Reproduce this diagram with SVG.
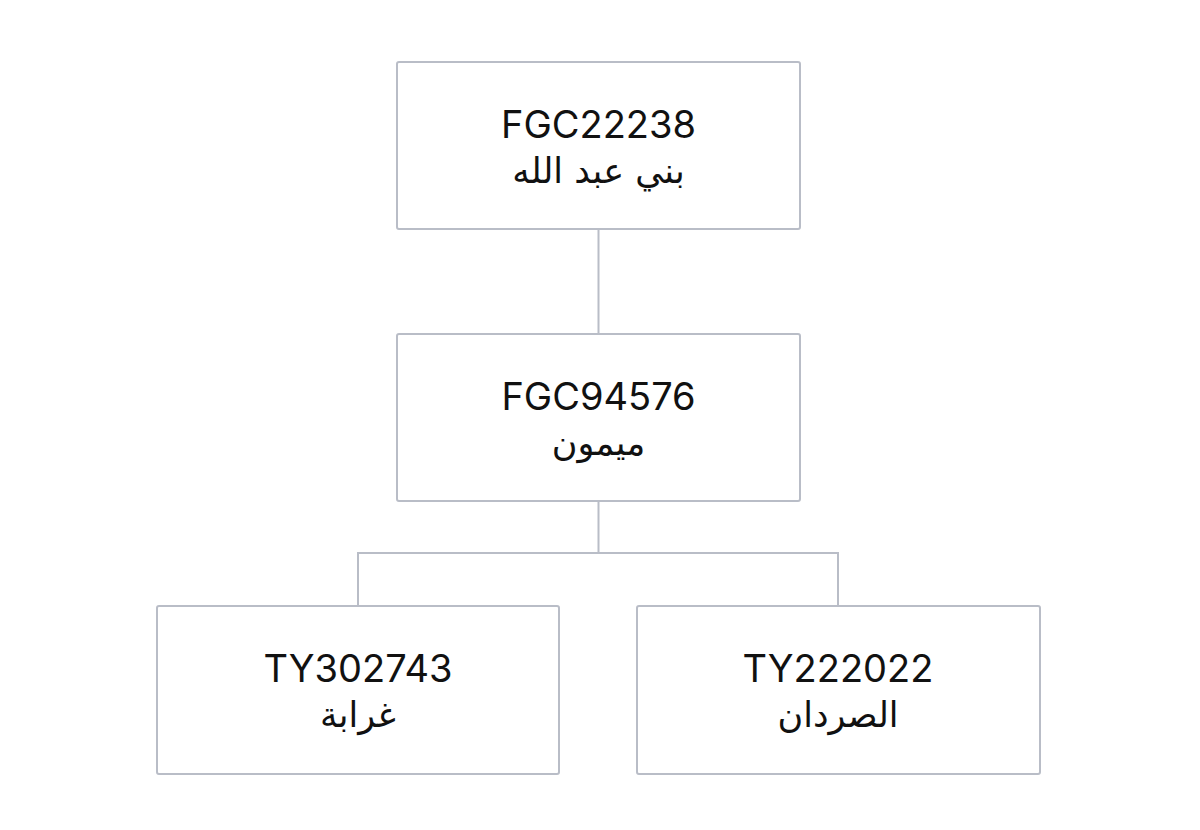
<svg xmlns="http://www.w3.org/2000/svg" width="1200" height="830" viewBox="0 0 1200 830">
<style>
.box{fill:#ffffff;stroke:#b9bdc7;stroke-width:2}
.conn{fill:none;stroke:#b9bdc7;stroke-width:2}
.t{font-family:Inter,"DejaVu Sans",sans-serif;font-size:38px;fill:#111111;text-anchor:middle}
.a{font-family:"DejaVu Sans","Noto Sans",sans-serif;font-size:35px;fill:#111111;text-anchor:middle}
</style>
<rect width="1200" height="830" fill="#ffffff"/>
<g id="connectors">
<path class="conn" d="M598.5 229V334"/>
<path class="conn" d="M598.5 501V553M358 606V553H838V606"/>
</g>
<g id="n1">
<rect class="box" x="397" y="62" width="403" height="167" rx="2"/>
<text class="t" x="598.5" y="138">FGC22238</text>
<text class="a" x="598.5" y="183" direction="rtl">بني عبد الله</text>
</g>
<g id="n2">
<rect class="box" x="397" y="334" width="403" height="167" rx="2"/>
<text class="t" x="598.5" y="410">FGC94576</text>
<text class="a" x="598.5" y="455" direction="rtl">ميمون</text>
</g>
<g id="n3">
<rect class="box" x="157" y="606" width="402" height="168" rx="2"/>
<text class="t" x="358" y="682">TY302743</text>
<text class="a" x="358" y="727" direction="rtl">غرابة</text>
</g>
<g id="n4">
<rect class="box" x="637" y="606" width="403" height="168" rx="2"/>
<text class="t" x="838" y="682">TY222022</text>
<text class="a" x="838" y="727" direction="rtl">الصردان</text>
</g>
</svg>
